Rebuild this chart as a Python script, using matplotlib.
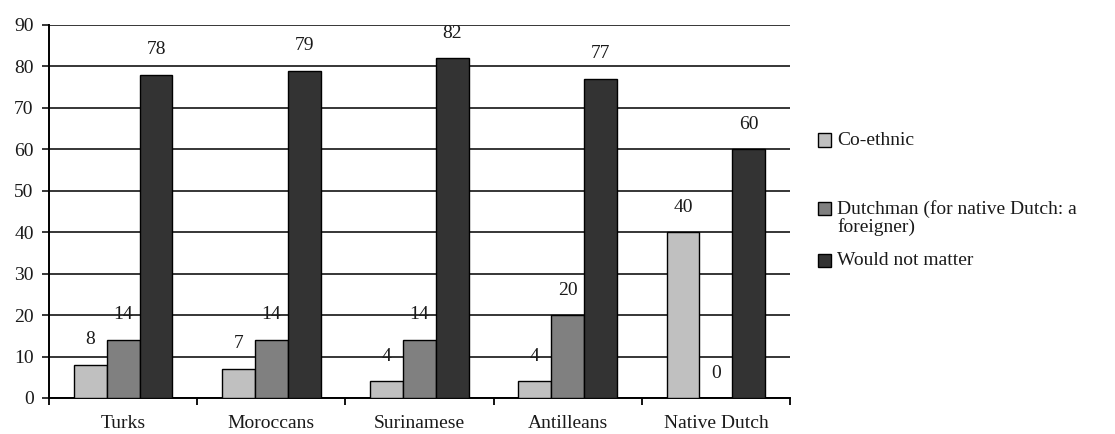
import matplotlib
matplotlib.use("Agg")
import matplotlib.pyplot as plt
from matplotlib.patches import Rectangle
import numpy as np

# Data
groups = ["Turks", "Moroccans", "Surinamese", "Antilleans", "Native Dutch"]
co_ethnic = [8, 7, 4, 4, 40]
dutchman = [14, 14, 14, 20, 0]
would_not_matter = [78, 79, 82, 77, 60]
series_names = ["Co-ethnic", "Dutchman (for native Dutch: a\nforeigner)", "Would not matter"]
series_colors = ["#c0c0c0", "#808080", "#333333"]
y_ticks = [0, 10, 20, 30, 40, 50, 60, 70, 80, 90]

plt.rcParams["font.family"] = ["Liberation Serif", "DejaVu Serif"]
text_color = "#1a1a1a"
fs = 14

fig = plt.figure(figsize=(11.15, 4.34), dpi=100)
ax = fig.add_axes([49 / 1115, 36 / 434, (790 - 49) / 1115, (398 - 25) / 434])

x = np.arange(len(groups))
w = 0.222
all_series = [co_ethnic, dutchman, would_not_matter]
for i, (vals, col) in enumerate(zip(all_series, series_colors)):
    pos = x + (i - 1) * w
    ax.bar(pos, vals, width=w, color=col, edgecolor="black", linewidth=1.0, zorder=3)
    for px, v in zip(pos, vals):
        ax.annotate(str(v), (px, v), xytext=(0, 18), textcoords="offset points",
                    ha="center", va="center", fontsize=fs, color=text_color)

ax.set_xlim(-0.5, len(groups) - 0.5)
ax.set_ylim(0, 90)
ax.set_yticks(y_ticks)
ax.set_yticklabels([str(t) for t in y_ticks], fontsize=fs, color=text_color)
ax.yaxis.grid(True, color="black", linewidth=1.1, zorder=0)
ax.set_axisbelow(True)

ax.set_xticks(x)
ax.set_xticklabels(groups, fontsize=fs, color=text_color)
ax.set_xticks(np.arange(-0.5, len(groups), 1.0), minor=True)
ax.tick_params(axis="x", which="major", length=0, pad=12)
ax.tick_params(axis="x", which="minor", length=5, width=1.3, direction="out", color="black")
ax.tick_params(axis="y", length=5, width=1.1, direction="out", pad=6, color="black")

for s in ["top", "right"]:
    ax.spines[s].set_visible(False)
for s in ["left", "bottom"]:
    ax.spines[s].set_linewidth(1.4)
    ax.spines[s].set_color("black")

# Legend drawn beside the plot: swatch plus label, first text line centred on the swatch
legend_rows = [140, 208, 260]
for name, col, yp in zip(series_names, series_colors, legend_rows):
    fig.add_artist(Rectangle((818 / 1115, (434 - yp - 6.5) / 434), 13 / 1115, 13 / 434,
                             transform=fig.transFigure, facecolor=col,
                             edgecolor="black", linewidth=1.0))
    fig.text(837 / 1115, (434 - yp + 8) / 434, name, fontsize=fs, color=text_color,
             ha="left", va="top", linespacing=1.0)

fig.savefig("out.png", dpi=100)
